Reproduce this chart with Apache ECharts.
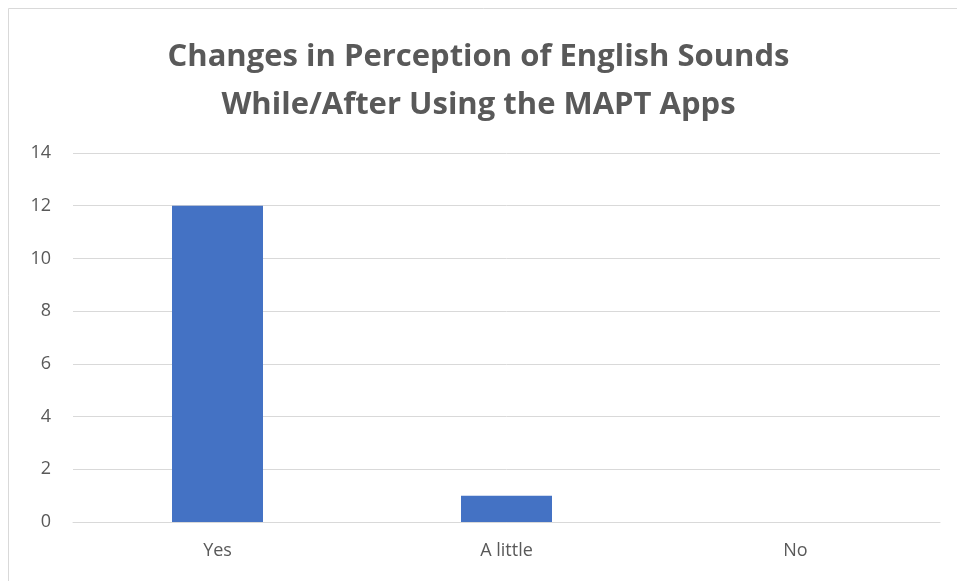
<!DOCTYPE html>
<html>
<head>
<meta charset="utf-8">
<script src="https://cdn.jsdelivr.net/npm/echarts@6/dist/echarts.min.js"></script>
<style>
html, body { margin: 0; padding: 0; background: #fff; }
#chart { width: 957px; height: 581px; }
</style>
</head>
<body>
<div id="chart"></div>
<script>
// Survey answers and response counts
const categories = ['Yes', 'A little', 'No'];
const counts = [12, 1, 0];
const titleLines = ['Changes in Perception of English Sounds', 'While/After Using the MAPT Apps'];

const textColor = '#595959';
const font = 'Open Sans';

const chart = echarts.init(document.getElementById('chart'), null, { renderer: 'canvas' });
chart.setOption({
  animation: false,
  backgroundColor: '#fff',
  graphic: [{
    type: 'rect',
    shape: { x: 8.5, y: 8.5, width: 960, height: 600 },
    style: { fill: 'none', stroke: '#d9d9d9', lineWidth: 1 },
    silent: true
  }],
  title: {
    text: titleLines.join('\n'),
    left: 'center',
    top: 28,
    textStyle: {
      fontFamily: font,
      fontSize: 31,
      fontWeight: 'bold',
      color: textColor,
      lineHeight: 48
    }
  },
  grid: { left: 73, right: 17, top: 153, bottom: 59 },
  xAxis: {
    type: 'category',
    data: categories,
    axisLine: { show: true, lineStyle: { color: '#d9d9d9', width: 1 } },
    axisTick: { show: false },
    axisLabel: { color: textColor, fontFamily: font, fontSize: 18, margin: 20 }
  },
  yAxis: {
    type: 'value',
    min: 0,
    max: 14,
    interval: 2,
    axisLine: { show: false },
    axisTick: { show: false },
    splitLine: { lineStyle: { color: '#d9d9d9', width: 1 } },
    axisLabel: { color: textColor, fontFamily: font, fontSize: 18, margin: 22 }
  },
  series: [{
    type: 'bar',
    data: counts,
    barWidth: 91,
    itemStyle: { color: '#4472C4' }
  }]
});
</script>
</body>
</html>
